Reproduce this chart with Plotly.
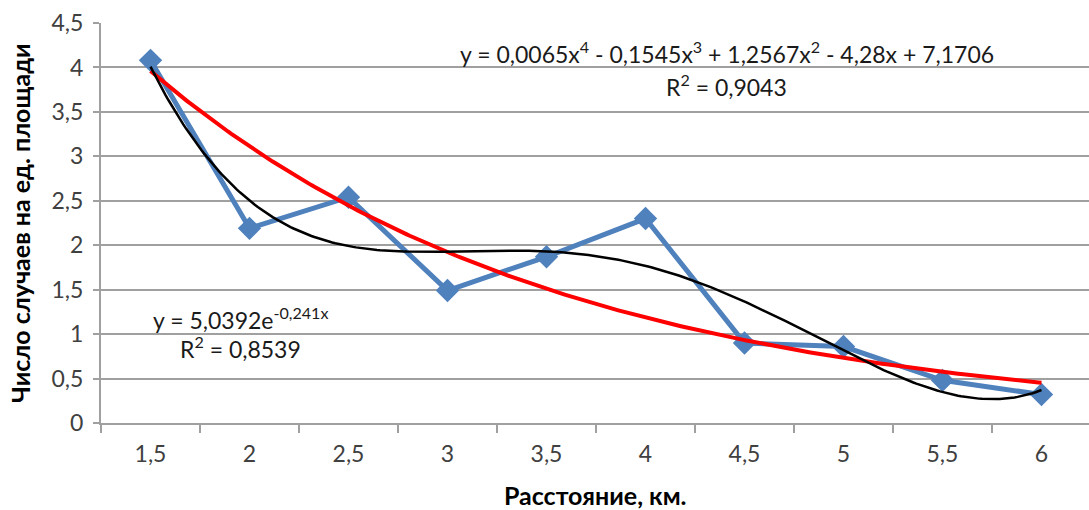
import numpy as np
import plotly.graph_objects as go

# Distance categories (km) and observed cases per unit area
distance_labels = ["1,5", "2", "2,5", "3", "3,5", "4", "4,5", "5", "5,5", "6"]
cases = [4.08, 2.19, 2.54, 1.49, 1.87, 2.30, 0.90, 0.86, 0.48, 0.32]

# Exponential trendline coefficients (y = a * e^(b*x), x = category number)
exp_a = 5.0392
exp_b = -0.241

pos = np.arange(len(cases))          # category positions on the axis
idx = pos + 1                         # category numbers 1..10 used by the trendlines

# Smooth sampling over the category span
t = np.linspace(1, len(cases), 300)

# Fourth-order polynomial least-squares trendline
poly = np.polyfit(idx, cases, 4)
poly_y = np.polyval(poly, t)

# Exponential trendline
exp_y = exp_a * np.exp(exp_b * t)

FONT = "Lato"
GRID = "#a0a0a0"
TICK_SIZE = 23
TITLE_SIZE = 25

fig = go.Figure()

fig.add_trace(go.Scatter(
    x=pos, y=cases, mode="lines+markers",
    line=dict(color="#4F81BD", width=5),
    marker=dict(symbol="diamond", size=18, color="#4F81BD"),
    showlegend=False,
))
fig.add_trace(go.Scatter(
    x=t - 1, y=exp_y, mode="lines",
    line=dict(color="#FF0000", width=4),
    showlegend=False,
))
fig.add_trace(go.Scatter(
    x=t - 1, y=poly_y, mode="lines",
    line=dict(color="#000000", width=2.5),
    showlegend=False,
))

fig.update_layout(
    width=1089, height=510,
    margin=dict(l=101, r=0, t=23, b=87),
    paper_bgcolor="white", plot_bgcolor="white",
    separators=", ",
    font=dict(family=FONT, size=TICK_SIZE, color="#404040"),
    xaxis=dict(
        range=[-0.5, 9.48],
        tickmode="array", tickvals=list(pos), ticktext=distance_labels,
        ticks="outside", ticklen=9, tickcolor="rgba(0,0,0,0)",
        showgrid=False, zeroline=False,
        showline=True, linecolor=GRID, linewidth=2,
        minor=dict(tickmode="array",
                   tickvals=[k - 0.5 for k in range(len(cases) + 1)],
                   ticks="outside", ticklen=8, tickwidth=2, tickcolor=GRID,
                   showgrid=False),
        tickfont=dict(family=FONT, size=TICK_SIZE, color="#404040"),
    ),
    yaxis=dict(
        range=[0, 4.5], dtick=0.5, tick0=0,
        showgrid=True, gridcolor=GRID, gridwidth=2,
        zeroline=False,
        showline=True, linecolor=GRID, linewidth=2,
        ticks="outside", ticklen=6, tickwidth=2, tickcolor=GRID,
        ticklabelstandoff=5,
        tickfont=dict(family=FONT, size=TICK_SIZE, color="#404040"),
    ),
)

# Axis titles
fig.add_annotation(
    text="<b>Расстояние, км.</b>", xref="paper", yref="paper",
    x=0.5, y=-0.18, xanchor="center", yanchor="middle", showarrow=False,
    font=dict(family=FONT, size=TITLE_SIZE, color="#000000"),
)
fig.add_annotation(
    text="<b>Число случаев на ед. площади</b>", xref="paper", yref="paper",
    x=-0.082, y=0.5, xanchor="center", yanchor="middle",
    textangle=-90, showarrow=False,
    font=dict(family=FONT, size=TITLE_SIZE, color="#000000"),
)

# Trendline equations
eq_font = dict(family=FONT, size=TICK_SIZE, color="#1a1a1a")
fig.add_annotation(
    text="y = 0,0065x<sup>4</sup> - 0,1545x<sup>3</sup> + 1,2567x<sup>2</sup> - 4,28x + 7,1706",
    x=5.82, y=4.17, xref="x", yref="y", showarrow=False, font=eq_font,
)
fig.add_annotation(
    text="R<sup>2</sup> = 0,9043",
    x=5.82, y=3.80, xref="x", yref="y", showarrow=False, font=eq_font,
)
fig.add_annotation(
    text="y = 5,0392e<sup>-0,241x</sup>",
    x=0.914, y=1.175, xref="x", yref="y", showarrow=False, font=eq_font,
)
fig.add_annotation(
    text="R<sup>2</sup> = 0,8539",
    x=0.914, y=0.85, xref="x", yref="y", showarrow=False, font=eq_font,
)

fig.write_html("out.html")
